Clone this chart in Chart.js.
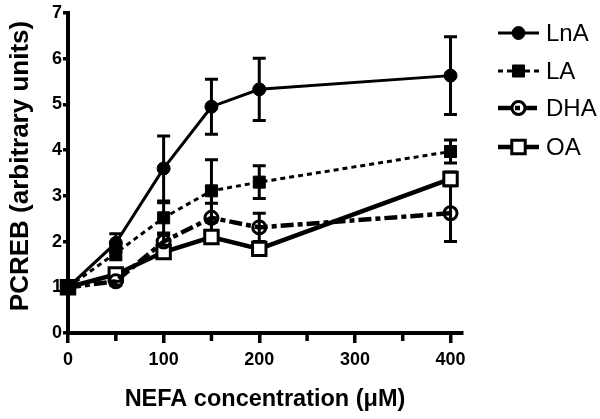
<!DOCTYPE html>
<html><head><meta charset="utf-8">
<script src="https://cdn.jsdelivr.net/npm/chart.js@4/dist/chart.umd.min.js"></script>
<style>html,body{margin:0;padding:0;background:#fff;} #wrap{width:600px;height:419px;position:relative;}</style>
</head><body><div id="wrap"><canvas id="c"></canvas></div>
<script>
const concentrations = [0, 50, 100, 150, 200, 400];
const seriesNames = ['LnA', 'LA', 'DHA', 'OA'];
const lnaMean = [1, 1.97, 3.60, 4.95, 5.33, 5.63];
const lnaErr  = [0, 0.20, 0.71, 0.60, 0.68, 0.85];
const laMean  = [1, 1.75, 2.52, 3.11, 3.30, 3.97];
const laErr   = [0, 0.15, 0.33, 0.68, 0.36, 0.25];
const dhaMean = [1, 1.13, 2.00, 2.52, 2.31, 2.62];
const dhaErr  = [0, 0.08, 0.15, 0.32, 0.31, 0.62];
const oaMean  = [1, 1.28, 1.77, 2.10, 1.84, 3.37];
const oaErr   = [0, 0.06, 0.10, 0.12, 0.08, 0.15];
const yTicks = [0, 1, 2, 3, 4, 5, 6, 7];
const xTicks = [0, 50, 100, 150, 200, 250, 300, 350, 400];
const xLabelTicks = [0, 100, 200, 300, 400];
const xTitle = 'NEFA concentration (\u03BCM)';
const yTitle = 'PCREB (arbitrary units)';

const FONT = '"Liberation Sans", Arial, Helvetica, sans-serif';
const toPts = (m) => concentrations.map((x, i) => ({x: x, y: m[i]}));

const styles = [
  {dash: [], lw: 3, ps: 'circle', r: 6.5, bg: '#000', bw: 1},
  {dash: [5, 4], lw: 3, ps: 'rect', r: 8.5, bg: '#000', bw: 1},
  {dash: [13, 4, 5, 4], lw: 4.5, ps: 'circle', r: 6.5, bg: 'rgba(0,0,0,0)', bw: 3},
  {dash: [], lw: 4.5, ps: 'rect', r: 9.5, bg: '#fff', bw: 3}
];
const means = [lnaMean, laMean, dhaMean, oaMean];
const errs = [lnaErr, laErr, dhaErr, oaErr];

const datasets = seriesNames.map((n, k) => ({
  label: n,
  data: toPts(means[k]),
  errors: errs[k],
  showLine: true,
  borderColor: '#000',
  borderWidth: styles[k].lw,
  borderDash: styles[k].dash,
  pointStyle: styles[k].ps,
  pointRadius: styles[k].r,
  pointHoverRadius: styles[k].r,
  pointBackgroundColor: styles[k].bg,
  pointBorderColor: '#000',
  pointBorderWidth: styles[k].bw,
  tension: 0,
  clip: false
}));

const errPlugin = {
  id: 'errbars',
  beforeDatasetsDraw(chart) {
    const ctx = chart.ctx, xs = chart.scales.x, ys = chart.scales.y;
    ctx.save();
    ctx.strokeStyle = '#000'; ctx.lineWidth = 3; ctx.setLineDash([]);
    chart.data.datasets.forEach(ds => {
      ds.data.forEach((p, i) => {
        const e = ds.errors[i];
        if (!e) return;
        const px = xs.getPixelForValue(p.x);
        const t = ys.getPixelForValue(p.y + e), b = ys.getPixelForValue(p.y - e);
        ctx.beginPath();
        ctx.moveTo(px, t); ctx.lineTo(px, b);
        ctx.moveTo(px - 6.5, t); ctx.lineTo(px + 6.5, t);
        ctx.moveTo(px - 6.5, b); ctx.lineTo(px + 6.5, b);
        ctx.stroke();
      });
    });
    ctx.restore();
  }
};

const decorPlugin = {
  id: 'decor',
  afterDraw(chart) {
    const ctx = chart.ctx, xs = chart.scales.x, ys = chart.scales.y;
    const base = ys.getPixelForValue(0);
    ctx.save();
    // minor x ticks
    ctx.strokeStyle = '#000'; ctx.lineWidth = 3.5;
    xTicks.filter(v => !xLabelTicks.includes(v)).forEach(v => {
      const px = xs.getPixelForValue(v);
      ctx.beginPath(); ctx.moveTo(px, base); ctx.lineTo(px, base + 8); ctx.stroke();
    });
    // axis titles
    ctx.fillStyle = '#000';
    ctx.font = 'bold 23.5px ' + FONT;
    ctx.textAlign = 'center'; ctx.textBaseline = 'alphabetic';
    ctx.fillText(xTitle, (chart.chartArea.left + chart.chartArea.right) / 2, 406);
    ctx.save();
    ctx.translate(21, 166);
    ctx.rotate(-Math.PI / 2);
    ctx.font = 'bold 26px ' + FONT;
    ctx.textBaseline = 'middle';
    ctx.fillText(yTitle, 0, 0);
    ctx.restore();
    // legend
    const ly = [33, 71, 108, 147];
    chart.data.datasets.forEach((ds, k) => {
      const s = styles[k], y = ly[k];
      ctx.strokeStyle = '#000';
      ctx.beginPath();
      ctx.setLineDash(s.dash);
      ctx.lineWidth = s.lw;
      ctx.moveTo(498, y); ctx.lineTo(539, y); ctx.stroke();
      ctx.setLineDash([]);
      ctx.fillStyle = s.bg;
      ctx.strokeStyle = '#000';
      ctx.lineWidth = s.bw;
      Chart.helpers.drawPoint(ctx, {pointStyle: s.ps, radius: s.r, borderWidth: s.bw, rotation: 0}, 518.5, y);
      ctx.fillStyle = '#000';
      ctx.font = '24px ' + FONT;
      ctx.textAlign = 'left'; ctx.textBaseline = 'middle';
      ctx.fillText(ds.label, 546, y + 1);
    });
    ctx.restore();
  }
};

new Chart(document.getElementById('c'), {
  type: 'scatter',
  data: {datasets: datasets},
  options: {
    responsive: true,
    maintainAspectRatio: false,
    animation: false,
    events: [],
    layout: {padding: {top: 13, right: 138, left: 0, bottom: 0}},
    plugins: {legend: {display: false}, tooltip: {enabled: false}},
    scales: {
      x: {
        type: 'linear', min: 0, max: 412,
        afterBuildTicks: s => { s.ticks = xTicks.map(v => ({value: v})); },
        afterFit: s => { s.height = 86; },
        ticks: {
          autoSkip: false, maxRotation: 0, color: '#000', padding: 6,
          font: {family: FONT, size: 18, weight: 'bold'},
          callback: v => xLabelTicks.includes(v) ? String(v) : ''
        },
        grid: {
          display: true, drawOnChartArea: false, drawTicks: true, tickLength: 10,
          tickWidth: 3.5, lineWidth: 3.5,
          tickColor: c => (c.tick && xLabelTicks.includes(c.tick.value)) ? '#000' : 'rgba(0,0,0,0)'
        },
        border: {display: true, width: 4, color: '#000'}
      },
      y: {
        type: 'linear', min: 0, max: 7,
        afterBuildTicks: s => { s.ticks = yTicks.map(v => ({value: v})); },
        afterFit: s => { s.width = 68; },
        ticks: {
          color: '#000', padding: 1,
          font: {family: FONT, size: 18, weight: 'bold'}
        },
        grid: {
          display: true, drawOnChartArea: false, drawTicks: true, tickLength: 5,
          tickWidth: 3.5, lineWidth: 3.5, tickColor: '#000'
        },
        border: {display: true, width: 4, color: '#000'}
      }
    }
  },
  plugins: [errPlugin, decorPlugin]
});
</script>
</body></html>
